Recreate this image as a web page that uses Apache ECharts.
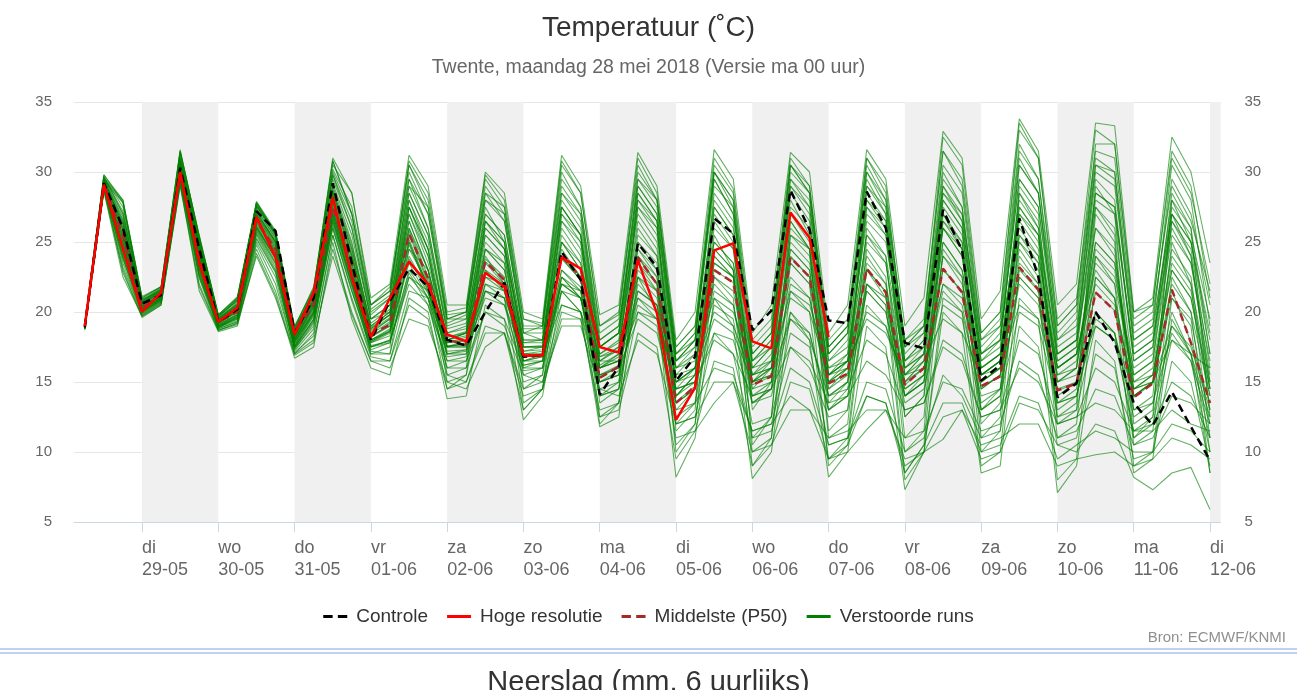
<!DOCTYPE html>
<html>
<head>
  <meta charset="utf-8">
  <title>Temperatuur</title>
  <script src="https://cdn.jsdelivr.net/npm/echarts@6/dist/echarts.min.js"></script>
  <style>
    html, body { margin: 0; width: 100%; height: 100%; background: #fff; }
    #chart { width: 1297px; height: 690px; }
  </style>
</head>
<body>
  <div id="chart"></div>
  <script>
    // hours since ma 28-05 00 uur, 6-hourly steps, first value at 06 uur
    var startHour = 6;
    var stepHours = 6;

    var dayNames = ['di', 'wo', 'do', 'vr', 'za', 'zo', 'ma', 'di', 'wo', 'do', 'vr', 'za', 'zo', 'ma', 'di'];
    var dayDates = ['29-05', '30-05', '31-05', '01-06', '02-06', '03-06', '04-06', '05-06', '06-06', '07-06', '08-06', '09-06', '10-06', '11-06', '12-06'];
    var shadedDays = [1, 3, 5, 7, 9, 11, 13, 15];   // day number after 28-05

    var controle = [18.9, 29.2, 26.0,
      20.6, 21.2, 30.3, 24.5, 19.3, 20.2, 27.2, 25.8, 18.5, 21.0, 29.2, 23.5,
      18.0, 20.8, 23.1, 21.8, 18.0, 17.6, 20.0, 22.1, 16.8, 16.9, 24.3, 22.3,
      14.1, 16.1, 24.9, 23.2, 15.1, 16.8, 26.7, 25.6, 18.7, 20.1, 28.7, 25.9,
      19.4, 19.2, 28.6, 26.0, 17.8, 17.4, 27.3, 24.4, 15.1, 16.2, 26.7, 22.5,
      13.9, 14.9, 20.0, 17.8, 13.5, 11.9, 14.3, 11.8, 9.4];

    var hogeResolutie = [19.0, 29.1, 24.5,
      20.0, 21.4, 30.0, 23.5, 19.3, 20.3, 26.8, 23.9, 18.4, 21.4, 28.2, 22.5,
      18.2, 21.0, 23.6, 22.0, 18.4, 17.9, 22.8, 21.8, 16.9, 16.9, 23.9, 23.1,
      17.5, 17.1, 23.7, 19.9, 12.3, 14.6, 24.4, 24.9, 17.9, 17.4, 27.1, 25.3,
      18.2];

    var middelste = [19.0, 29.1, 25.5,
      20.3, 21.2, 29.8, 24.0, 19.3, 20.0, 26.5, 24.5, 18.6, 20.5, 27.5, 23.5,
      18.4, 19.1, 25.6, 22.4, 18.0, 17.7, 23.6, 22.3, 16.9, 16.9, 24.0, 22.5,
      15.3, 16.1, 23.9, 22.0, 13.5, 14.7, 23.0, 22.1, 14.8, 15.4, 23.9, 22.5,
      14.9, 15.6, 23.1, 21.4, 14.8, 16.0, 23.1, 21.4, 14.7, 15.4, 23.2, 21.6,
      14.4, 14.9, 21.4, 20.1, 13.9, 14.9, 21.6, 17.8, 13.5];

    // verstoorde runs (ensemble members)
    var run01 = [19.1, 29.6, 27.5, 20.8, 21.6, 31.0, 25.0, 19.6, 20.6, 27.6, 25.5, 18.8, 21.2, 30.2, 27.5, 20.5, 21.5, 30.5, 28.0, 19.8, 20.0, 29.5, 27.5, 19.5, 19.0, 30.5, 28.5, 19.0, 19.8, 31.0, 28.5, 17.5, 19.0, 31.0, 28.8, 18.0, 19.5, 30.5, 28.5, 17.5, 19.0, 29.5, 27.0, 16.5, 18.0, 30.0, 27.5, 17.0, 18.5, 31.0, 28.5, 18.5, 20.0, 30.5, 29.5, 17.5, 18.5, 28.0, 25.0, 17.0];
    var run02 = [19.0, 29.2, 25.8, 20.4, 21.2, 30.2, 24.0, 19.2, 20.1, 26.8, 24.6, 18.0, 20.5, 28.0, 23.5, 18.5, 19.5, 26.5, 23.0, 17.8, 18.0, 25.0, 23.5, 17.5, 17.5, 26.0, 24.0, 16.0, 16.8, 24.5, 22.5, 14.0, 15.5, 22.0, 20.5, 13.5, 14.5, 20.0, 18.5, 13.0, 14.0, 21.5, 20.0, 14.0, 15.0, 24.0, 22.0, 15.5, 16.5, 26.0, 24.0, 16.0, 17.0, 22.0, 20.5, 14.5, 15.0, 19.0, 17.5, 13.0];
    var run03 = [18.9, 28.9, 24.0, 20.0, 20.8, 29.5, 22.5, 19.0, 19.5, 25.5, 23.0, 17.5, 19.5, 26.0, 21.5, 17.5, 18.0, 22.0, 20.5, 16.5, 16.5, 20.0, 19.5, 16.0, 16.0, 21.5, 20.0, 15.0, 15.5, 20.5, 19.5, 14.5, 15.0, 18.0, 17.0, 14.0, 14.5, 17.5, 16.5, 13.5, 14.0, 16.5, 15.5, 13.0, 13.5, 17.5, 16.5, 12.5, 13.0, 18.0, 17.0, 12.0, 12.5, 16.0, 15.0, 11.5, 12.0, 15.0, 14.0, 11.0];
    var run04 = [18.8, 29.0, 23.5, 19.8, 20.7, 29.8, 23.0, 18.8, 19.3, 26.0, 23.8, 17.2, 18.8, 27.0, 22.5, 17.0, 17.5, 27.5, 24.5, 15.5, 16.0, 26.5, 25.0, 14.5, 15.5, 27.0, 25.5, 13.5, 14.5, 28.5, 26.5, 11.5, 13.0, 27.5, 25.5, 10.5, 12.5, 25.5, 24.5, 11.0, 12.0, 24.5, 22.5, 10.0, 11.5, 26.5, 24.5, 11.0, 12.5, 28.5, 26.0, 12.5, 13.5, 29.0, 27.0, 13.0, 14.0, 26.5, 24.0, 15.0];
    var run05 = [19.0, 29.4, 26.5, 20.6, 21.4, 30.5, 24.5, 19.3, 20.2, 27.2, 25.0, 18.3, 20.8, 28.5, 24.0, 18.8, 19.8, 28.0, 24.5, 18.0, 18.5, 24.0, 22.0, 16.5, 16.5, 22.0, 21.0, 15.5, 16.0, 19.5, 18.5, 13.0, 13.5, 16.0, 15.5, 11.5, 12.0, 17.5, 16.0, 12.5, 13.0, 20.5, 19.0, 14.0, 15.0, 25.0, 23.0, 16.0, 17.0, 27.5, 25.5, 17.0, 18.0, 26.0, 24.0, 15.0, 15.5, 23.0, 21.0, 14.0];
    var run06 = [19.1, 29.5, 27.0, 20.9, 21.7, 31.2, 25.2, 19.7, 20.8, 27.8, 25.7, 18.6, 21.0, 29.5, 26.0, 19.5, 20.5, 29.0, 26.0, 19.0, 19.5, 28.0, 26.5, 18.5, 18.5, 29.0, 27.0, 17.5, 18.5, 27.0, 25.0, 16.0, 17.0, 25.0, 23.5, 16.5, 17.5, 27.5, 26.0, 16.5, 17.5, 28.5, 26.5, 17.5, 18.5, 29.0, 27.0, 18.0, 19.0, 25.0, 23.0, 16.0, 17.0, 23.0, 21.0, 14.0, 15.0, 21.0, 19.5, 12.0];
    var run07 = [18.9, 28.8, 22.8, 19.7, 20.6, 29.2, 22.0, 18.7, 19.1, 24.5, 21.5, 16.9, 17.8, 24.5, 20.0, 16.5, 16.0, 19.5, 19.0, 15.0, 14.5, 17.5, 18.5, 14.0, 14.5, 19.5, 19.5, 13.0, 13.5, 20.0, 19.0, 12.0, 12.5, 18.5, 17.0, 11.0, 11.5, 16.0, 15.0, 10.5, 11.0, 15.0, 14.5, 10.0, 11.0, 15.5, 14.0, 11.0, 11.5, 19.0, 17.5, 10.5, 11.0, 17.0, 16.0, 9.5, 10.0, 16.5, 15.0, 9.0];
    var run08 = [19.2, 29.8, 28.0, 21.1, 21.8, 31.6, 25.4, 19.8, 21.0, 27.9, 25.8, 19.0, 21.6, 31.0, 28.5, 21.0, 22.0, 31.2, 29.0, 20.5, 20.5, 30.0, 28.5, 20.0, 19.5, 31.2, 29.0, 19.8, 20.5, 31.4, 29.0, 18.0, 20.0, 31.6, 29.5, 18.5, 20.5, 31.4, 30.0, 18.5, 20.5, 31.6, 29.5, 19.0, 21.0, 32.9, 31.0, 19.5, 21.5, 33.8, 31.5, 20.5, 22.0, 33.5, 33.3, 20.0, 21.0, 32.5, 30.0, 23.5];
    var run09 = [18.9, 29.1, 25.0, 20.2, 21.0, 29.9, 23.6, 19.1, 19.8, 26.2, 24.0, 17.8, 20.0, 27.2, 22.8, 18.0, 18.8, 25.0, 21.5, 17.0, 17.0, 22.5, 21.5, 16.5, 16.8, 23.0, 21.8, 15.0, 15.8, 23.0, 21.5, 13.5, 14.5, 22.5, 21.5, 14.5, 15.0, 23.5, 22.0, 14.5, 15.5, 22.0, 20.5, 14.5, 15.5, 21.5, 20.0, 14.0, 14.5, 22.0, 20.5, 13.5, 14.0, 20.0, 18.5, 12.5, 13.5, 20.0, 17.0, 12.5];
    var run10 = [19.0, 29.3, 26.0, 20.5, 21.3, 30.3, 24.2, 19.4, 20.3, 26.9, 24.8, 18.1, 20.4, 27.8, 23.2, 18.3, 19.0, 26.0, 22.5, 17.5, 17.8, 24.5, 23.0, 17.0, 17.2, 25.5, 23.5, 16.5, 17.5, 26.5, 24.5, 15.5, 17.0, 28.0, 26.0, 16.0, 17.5, 29.5, 27.5, 17.0, 18.5, 30.5, 28.0, 17.5, 19.0, 31.5, 29.0, 18.0, 19.5, 32.0, 29.5, 19.0, 20.5, 31.0, 30.0, 18.5, 19.5, 29.5, 27.0, 20.5];
    var run11 = [18.8, 28.7, 24.5, 20.1, 20.9, 29.6, 23.2, 19.0, 19.6, 25.8, 23.5, 17.6, 19.8, 26.5, 22.0, 17.8, 18.5, 23.5, 21.0, 17.5, 17.5, 21.0, 20.5, 17.0, 17.0, 20.5, 20.0, 16.5, 16.5, 21.5, 20.5, 15.5, 16.0, 20.0, 19.0, 15.5, 16.0, 21.0, 20.0, 15.5, 16.0, 20.0, 19.0, 15.0, 16.5, 19.5, 18.5, 15.5, 16.0, 20.5, 19.5, 15.0, 15.5, 19.0, 18.0, 14.5, 15.0, 18.0, 17.0, 16.0];
    var run12 = [19.0, 29.0, 25.2, 20.3, 21.1, 30.0, 23.8, 19.2, 20.0, 26.5, 24.3, 18.0, 20.2, 27.5, 23.0, 18.2, 19.0, 25.8, 22.2, 17.0, 17.3, 23.8, 22.5, 15.5, 16.0, 24.5, 22.5, 14.0, 15.0, 25.0, 23.5, 12.0, 13.5, 25.5, 23.0, 11.0, 12.5, 26.5, 24.5, 11.5, 13.0, 26.0, 24.0, 11.0, 12.5, 27.0, 25.0, 12.0, 13.5, 29.0, 27.0, 13.5, 14.5, 27.5, 25.5, 12.0, 13.0, 25.0, 22.0, 11.0];
    var run13 = [18.9, 29.1, 24.8, 20.2, 21.0, 30.0, 23.5, 19.0, 19.8, 26.0, 23.8, 17.5, 19.5, 26.8, 22.0, 17.5, 18.0, 24.0, 21.5, 16.0, 16.5, 22.0, 21.0, 15.0, 15.5, 22.5, 21.0, 14.0, 14.5, 22.0, 20.5, 12.5, 13.5, 20.5, 19.5, 12.0, 12.5, 18.5, 17.5, 10.5, 11.0, 14.0, 13.5, 9.0, 10.0, 12.5, 13.0, 9.5, 10.0, 13.5, 13.0, 10.5, 10.0, 12.0, 11.5, 8.2, 7.3, 8.5, 8.9, 5.9];
    var run14 = [19.1, 29.4, 26.8, 20.7, 21.5, 30.8, 24.8, 19.5, 20.5, 27.4, 25.2, 18.5, 20.8, 29.0, 25.0, 19.0, 20.0, 28.5, 25.5, 18.5, 19.0, 27.0, 25.5, 18.0, 18.0, 28.0, 26.0, 17.5, 18.5, 29.0, 27.0, 17.0, 18.0, 29.5, 27.0, 17.0, 18.5, 28.0, 25.5, 15.5, 16.5, 23.0, 21.0, 14.5, 15.5, 22.0, 20.5, 13.5, 14.5, 22.5, 21.0, 14.0, 15.0, 24.0, 22.5, 16.0, 17.0, 27.0, 25.0, 18.5];
    var run15 = [19.0, 29.2, 25.5, 20.4, 21.2, 30.1, 24.0, 19.3, 20.1, 26.6, 24.4, 18.2, 20.6, 28.2, 23.8, 18.6, 19.5, 27.0, 23.5, 18.2, 18.5, 25.5, 24.0, 17.0, 17.0, 24.0, 22.5, 16.0, 16.5, 25.5, 24.0, 15.0, 16.0, 24.0, 22.5, 15.5, 16.0, 21.5, 20.5, 16.0, 16.5, 19.5, 18.5, 15.5, 16.0, 22.0, 21.0, 15.0, 16.0, 24.5, 22.5, 15.5, 16.5, 25.0, 23.5, 15.0, 16.0, 24.0, 22.0, 15.0];
    var run16 = [19.0, 29.4, 27.8, 20.9, 21.5, 30.9, 24.9, 19.6, 20.9, 27.5, 25.4, 18.7, 21.5, 30.5, 28.5, 20.5, 21.8, 29.5, 27.0, 19.5, 19.5, 28.5, 27.5, 19.0, 19.0, 30.0, 27.5, 18.0, 19.0, 29.5, 28.0, 17.0, 18.5, 30.0, 27.5, 16.5, 18.0, 30.5, 29.0, 17.5, 19.0, 30.0, 28.0, 18.0, 19.5, 31.5, 29.5, 18.5, 20.0, 33.0, 31.0, 19.5, 21.0, 31.5, 31.0, 19.0, 20.0, 29.0, 26.5, 21.5];
    var run17 = [18.8, 28.9, 24.2, 20.0, 20.8, 29.4, 22.8, 18.9, 19.4, 25.2, 22.8, 17.3, 19.2, 26.2, 21.8, 17.2, 17.0, 24.5, 23.0, 15.0, 15.5, 24.5, 23.5, 13.5, 14.5, 25.0, 23.0, 12.5, 13.5, 23.5, 21.5, 10.5, 12.0, 22.5, 21.0, 10.0, 11.0, 21.5, 20.0, 9.5, 11.0, 23.0, 21.5, 8.5, 10.5, 24.5, 22.5, 10.0, 11.5, 25.5, 23.5, 11.0, 12.0, 24.0, 22.0, 10.5, 11.5, 22.5, 20.0, 10.0];
    var run18 = [18.7, 28.7, 23.0, 19.6, 20.5, 29.1, 21.5, 18.6, 19.0, 24.2, 21.2, 16.7, 17.5, 25.0, 19.5, 16.0, 15.5, 21.0, 20.0, 13.8, 14.0, 20.5, 19.5, 12.3, 14.0, 21.5, 20.0, 11.8, 12.5, 22.5, 20.0, 8.2, 11.0, 21.0, 19.0, 8.1, 10.0, 20.0, 18.0, 8.2, 10.0, 19.0, 17.5, 7.3, 10.0, 20.0, 18.5, 8.5, 9.0, 21.0, 19.5, 7.1, 9.0, 18.0, 16.5, 8.5, 9.5, 19.5, 17.0, 8.5];
    var run19 = [19.1, 29.6, 27.2, 20.8, 21.6, 31.0, 25.0, 19.5, 20.7, 27.6, 25.5, 18.6, 21.3, 29.8, 26.5, 19.8, 21.0, 30.0, 27.0, 19.2, 19.8, 29.0, 27.0, 18.8, 18.8, 29.5, 27.5, 18.5, 19.5, 30.5, 28.0, 17.0, 18.5, 30.5, 28.5, 17.5, 19.0, 31.0, 29.0, 18.0, 19.5, 31.0, 28.5, 18.0, 19.0, 27.0, 24.5, 15.0, 16.0, 24.0, 22.0, 13.0, 14.0, 20.0, 18.5, 11.0, 12.0, 18.0, 16.5, 10.0];
    var run20 = [19.0, 29.0, 25.3, 20.3, 21.1, 29.9, 23.8, 19.2, 20.0, 26.4, 24.1, 17.9, 20.1, 27.4, 22.6, 18.0, 18.7, 25.2, 21.8, 17.5, 17.8, 23.5, 22.0, 16.8, 17.0, 23.8, 22.3, 15.5, 16.2, 24.0, 22.0, 14.0, 15.0, 23.5, 22.5, 15.0, 15.5, 24.5, 23.0, 15.0, 16.0, 24.0, 22.0, 15.0, 16.0, 23.0, 21.5, 14.5, 15.5, 23.5, 22.0, 14.5, 15.0, 22.5, 21.0, 14.0, 15.0, 22.0, 20.0, 14.0];
    var run21 = [18.9, 29.0, 24.6, 20.1, 21.0, 29.7, 23.3, 19.0, 19.7, 25.9, 23.6, 17.7, 19.9, 26.7, 22.3, 17.9, 18.6, 23.8, 21.3, 17.8, 18.0, 21.5, 21.0, 17.5, 17.5, 22.0, 21.5, 16.8, 17.2, 22.5, 21.5, 16.0, 16.5, 21.0, 20.0, 16.0, 16.5, 22.5, 21.0, 15.0, 16.0, 25.5, 24.0, 16.0, 17.0, 27.5, 25.5, 17.0, 18.0, 29.5, 27.5, 18.0, 19.0, 28.5, 27.5, 17.0, 18.0, 27.5, 25.5, 19.5];
    var run22 = [19.0, 29.3, 26.2, 20.6, 21.4, 30.6, 24.4, 19.4, 20.4, 27.0, 24.9, 18.4, 20.9, 28.8, 24.5, 19.2, 20.2, 29.5, 26.0, 18.5, 18.8, 27.5, 25.0, 17.5, 17.6, 26.5, 24.5, 17.0, 17.8, 27.5, 25.5, 16.5, 17.5, 26.5, 24.5, 15.0, 16.0, 24.0, 22.5, 14.0, 15.0, 25.0, 23.5, 14.0, 15.5, 26.0, 24.0, 14.5, 15.5, 26.5, 24.5, 15.0, 16.0, 26.0, 24.5, 14.0, 15.0, 24.5, 22.5, 13.0];
    var run23 = [18.8, 28.8, 23.8, 19.9, 20.7, 29.5, 22.7, 18.8, 19.3, 25.0, 22.5, 17.0, 18.5, 25.5, 21.0, 17.0, 17.0, 22.5, 21.0, 16.0, 16.0, 20.0, 19.0, 15.5, 15.0, 19.0, 19.0, 14.5, 14.0, 18.0, 17.0, 12.0, 12.5, 15.0, 15.0, 11.5, 12.0, 14.0, 13.0, 11.0, 11.5, 13.0, 13.0, 11.0, 11.5, 15.0, 14.5, 11.5, 12.0, 16.5, 15.5, 11.0, 11.5, 14.5, 14.0, 10.5, 11.0, 14.0, 13.5, 12.0];
    var run24 = [19.1, 29.5, 26.0, 20.6, 21.5, 30.7, 24.6, 19.5, 20.5, 27.2, 25.0, 18.4, 20.7, 28.6, 24.2, 18.8, 19.8, 27.5, 24.5, 18.0, 18.3, 26.0, 24.5, 17.2, 17.5, 27.5, 25.5, 16.5, 17.3, 28.0, 26.0, 14.5, 16.0, 27.0, 25.0, 15.0, 16.5, 28.5, 26.5, 15.5, 17.0, 27.5, 25.5, 15.5, 17.0, 28.5, 26.5, 16.5, 17.5, 30.5, 28.5, 17.5, 18.5, 29.5, 28.0, 16.5, 17.5, 28.5, 26.0, 17.0];
    var run25 = [18.9, 29.1, 25.0, 20.2, 21.0, 30.0, 23.6, 19.1, 19.9, 26.3, 24.2, 17.9, 20.0, 27.3, 22.8, 18.0, 18.6, 25.0, 21.8, 17.2, 17.3, 23.0, 21.5, 16.0, 16.5, 22.5, 21.0, 14.5, 15.0, 21.0, 19.5, 11.0, 11.5, 13.5, 15.0, 10.0, 10.5, 13.0, 13.0, 9.5, 10.0, 11.6, 13.0, 9.5, 10.0, 10.9, 13.0, 10.5, 11.0, 12.0, 12.0, 9.0, 9.5, 9.8, 10.0, 9.0, 9.5, 11.0, 10.5, 9.5];
    var run26 = [19.0, 29.2, 25.9, 20.5, 21.3, 30.4, 24.3, 19.3, 20.3, 26.9, 24.7, 18.2, 20.6, 28.3, 24.0, 18.7, 19.6, 27.5, 24.0, 18.2, 18.6, 26.5, 24.5, 17.8, 17.8, 27.0, 25.0, 16.8, 17.5, 26.0, 24.0, 15.0, 16.0, 24.5, 23.0, 15.5, 16.5, 26.0, 24.5, 16.0, 17.0, 26.5, 25.0, 16.5, 17.5, 26.0, 24.0, 15.5, 16.5, 25.5, 24.0, 16.0, 17.0, 23.5, 22.0, 15.5, 16.5, 25.5, 23.5, 16.5];
    var run27 = [18.9, 28.9, 24.5, 20.0, 20.9, 29.6, 23.0, 18.9, 19.6, 25.6, 23.2, 17.4, 19.3, 26.4, 22.0, 17.5, 17.8, 23.0, 21.0, 16.5, 16.8, 21.5, 20.5, 15.8, 16.0, 23.0, 21.5, 15.0, 15.5, 24.5, 23.0, 14.0, 15.5, 26.0, 24.5, 14.5, 16.0, 27.0, 25.0, 15.5, 16.5, 28.0, 26.0, 16.0, 17.0, 29.5, 27.5, 17.0, 18.0, 30.5, 28.5, 17.0, 18.0, 32.0, 32.0, 20.0, 20.5, 31.0, 28.5, 22.0];
    var run28 = [19.0, 29.1, 25.4, 20.3, 21.2, 30.0, 23.9, 19.2, 20.1, 26.5, 24.3, 18.0, 20.3, 27.6, 23.0, 18.2, 19.2, 25.6, 22.0, 17.6, 17.6, 23.6, 22.3, 16.8, 16.9, 23.9, 22.3, 15.3, 16.1, 23.9, 22.0, 13.6, 14.7, 23.0, 22.1, 14.8, 15.4, 23.9, 22.5, 14.9, 15.6, 23.1, 21.4, 14.8, 16.0, 23.1, 21.4, 14.7, 15.4, 23.2, 21.6, 14.4, 14.9, 21.4, 20.1, 13.9, 14.9, 21.6, 17.8, 13.5];
    var run29 = [19.1, 29.7, 27.0, 20.8, 21.7, 31.3, 25.2, 19.7, 20.8, 27.7, 25.6, 18.7, 21.4, 29.8, 26.0, 19.5, 20.0, 26.0, 23.0, 17.5, 18.0, 25.5, 24.0, 16.5, 17.0, 26.5, 25.0, 16.0, 17.0, 27.5, 26.0, 14.0, 15.5, 28.5, 26.5, 13.0, 15.0, 29.0, 27.0, 13.5, 15.0, 29.0, 27.0, 12.5, 14.0, 28.0, 26.0, 13.0, 14.5, 27.5, 25.5, 12.0, 13.0, 27.0, 25.0, 11.0, 12.5, 28.0, 26.0, 12.5];
    var run30 = [18.8, 28.8, 23.8, 19.9, 20.8, 29.4, 22.6, 18.9, 19.5, 25.3, 22.9, 17.4, 19.0, 26.0, 21.5, 17.3, 17.8, 22.5, 21.5, 17.5, 17.5, 22.5, 22.0, 16.5, 16.8, 21.5, 21.0, 16.0, 16.5, 20.0, 19.5, 15.0, 15.5, 19.5, 18.5, 15.0, 15.5, 19.5, 18.0, 14.0, 14.5, 18.0, 17.0, 13.0, 13.5, 18.0, 17.0, 12.5, 13.0, 16.0, 15.0, 12.0, 12.5, 13.5, 13.0, 11.5, 11.5, 13.0, 12.0, 11.5];
    var run31 = [19.0, 29.5, 27.9, 20.7, 21.6, 31.4, 25.5, 19.8, 21.1, 27.6, 25.6, 18.9, 21.8, 30.0, 27.0, 20.0, 21.0, 29.0, 27.5, 19.5, 20.0, 28.0, 27.0, 18.5, 19.0, 28.5, 27.0, 18.0, 19.0, 28.0, 26.5, 16.5, 18.0, 29.0, 27.5, 16.0, 17.5, 29.5, 28.0, 17.0, 18.5, 29.0, 27.5, 17.0, 18.5, 30.5, 28.5, 17.5, 19.0, 31.5, 29.5, 18.0, 19.5, 30.0, 29.0, 18.0, 19.0, 30.5, 28.0, 19.0];
    var run32 = [18.8, 28.6, 22.5, 19.7, 20.5, 29.0, 21.8, 18.7, 19.2, 24.0, 21.0, 17.0, 18.0, 24.0, 19.8, 16.5, 16.5, 20.5, 19.5, 14.5, 15.0, 19.0, 18.5, 13.0, 14.5, 20.0, 19.5, 12.5, 13.0, 18.5, 17.5, 9.5, 11.5, 16.5, 16.0, 9.0, 10.5, 15.0, 14.5, 9.5, 10.5, 14.0, 13.5, 8.5, 10.5, 13.5, 13.5, 10.0, 10.5, 14.0, 13.5, 9.5, 10.5, 11.5, 11.0, 10.0, 10.0, 12.0, 11.5, 10.0];
    var run33 = [19.0, 29.3, 26.4, 20.6, 21.4, 30.4, 24.6, 19.4, 20.5, 27.1, 25.1, 18.3, 20.9, 28.7, 24.8, 19.0, 20.0, 28.0, 25.0, 18.0, 18.5, 26.5, 25.0, 17.5, 17.5, 27.5, 25.5, 17.0, 18.0, 28.5, 26.5, 16.0, 17.5, 27.5, 25.5, 15.5, 17.0, 26.5, 24.5, 15.0, 16.5, 27.0, 25.5, 15.5, 17.0, 28.0, 26.0, 16.0, 17.0, 28.0, 26.0, 16.5, 17.5, 27.5, 26.0, 15.5, 16.5, 26.5, 24.5, 16.0];
    var run34 = [19.1, 29.6, 28.0, 21.0, 21.8, 31.5, 25.3, 19.8, 21.0, 27.8, 25.7, 18.9, 21.7, 30.8, 27.0, 20.5, 21.5, 30.5, 27.5, 19.5, 20.0, 28.5, 26.5, 18.5, 18.0, 25.0, 23.0, 16.0, 16.5, 21.0, 20.0, 14.5, 15.0, 18.5, 18.0, 13.5, 14.0, 19.5, 18.5, 13.0, 14.0, 22.0, 21.0, 14.0, 15.0, 26.0, 24.5, 15.5, 16.5, 28.5, 26.5, 16.5, 17.5, 30.5, 30.0, 18.0, 19.0, 27.0, 24.0, 14.5];
    var run35 = [18.9, 29.0, 24.0, 20.1, 20.9, 29.8, 23.4, 19.0, 19.7, 26.1, 23.9, 17.6, 19.7, 27.0, 22.4, 17.8, 18.3, 24.5, 22.0, 17.0, 17.2, 22.0, 21.5, 16.2, 16.5, 22.0, 21.0, 15.5, 16.0, 22.5, 21.0, 14.5, 15.0, 21.5, 20.5, 14.0, 14.5, 22.0, 21.0, 14.0, 15.0, 21.5, 20.0, 13.5, 14.5, 20.5, 19.5, 13.0, 14.0, 20.0, 19.0, 13.5, 14.0, 19.5, 18.5, 13.0, 13.5, 18.5, 16.5, 12.0];
    var run36 = [19.0, 29.3, 26.3, 20.6, 21.4, 30.6, 24.5, 19.4, 20.4, 27.0, 25.0, 18.3, 20.8, 28.5, 24.5, 18.9, 19.8, 27.0, 24.0, 18.0, 18.5, 26.0, 24.5, 17.8, 18.0, 27.5, 25.5, 17.5, 18.5, 29.0, 27.0, 16.5, 18.0, 30.0, 28.0, 17.0, 18.5, 30.0, 28.5, 17.5, 19.0, 30.0, 27.5, 16.5, 18.0, 29.0, 26.5, 16.0, 17.0, 27.0, 25.0, 15.0, 16.0, 25.0, 23.5, 14.5, 15.5, 23.5, 21.5, 14.5];
    var run37 = [18.9, 29.0, 24.9, 20.2, 21.0, 29.8, 23.5, 19.1, 19.8, 26.1, 23.9, 17.8, 19.9, 27.0, 22.7, 17.9, 18.6, 24.8, 21.7, 16.8, 17.0, 23.0, 22.0, 16.2, 16.5, 24.0, 22.5, 15.0, 15.5, 23.5, 22.0, 13.0, 14.5, 24.0, 22.5, 13.5, 14.5, 24.5, 23.0, 13.0, 14.5, 23.5, 22.0, 12.5, 14.0, 24.0, 22.5, 13.0, 14.0, 22.5, 21.0, 12.5, 13.0, 19.0, 18.0, 11.5, 12.5, 19.0, 17.0, 11.0];
    var run38 = [19.2, 29.8, 27.8, 21.0, 21.8, 31.5, 25.4, 19.7, 20.9, 27.8, 25.6, 18.8, 21.5, 30.8, 27.0, 20.2, 21.2, 30.8, 28.5, 20.0, 20.3, 29.8, 28.0, 19.5, 19.2, 30.8, 28.5, 19.0, 20.0, 30.0, 28.0, 17.5, 19.0, 29.5, 27.0, 17.0, 18.5, 29.0, 27.5, 16.5, 18.0, 28.0, 26.5, 16.0, 17.5, 28.5, 27.0, 16.5, 18.0, 29.5, 27.5, 17.0, 18.0, 28.0, 27.0, 17.0, 18.0, 26.0, 23.5, 15.5];
    var run39 = [18.9, 28.9, 24.3, 20.0, 20.9, 29.6, 23.1, 18.9, 19.6, 25.7, 23.4, 17.5, 19.4, 26.6, 22.2, 17.6, 17.9, 22.8, 20.5, 15.5, 15.0, 18.5, 18.5, 14.5, 15.0, 20.5, 20.0, 14.0, 14.5, 21.5, 20.5, 13.5, 14.5, 23.5, 22.5, 14.0, 15.0, 25.5, 24.0, 14.5, 16.0, 27.5, 26.0, 15.5, 16.5, 26.5, 25.0, 15.5, 16.5, 27.0, 25.5, 16.0, 17.0, 28.5, 27.5, 16.5, 17.5, 27.0, 25.0, 18.0];
    var run40 = [19.0, 29.2, 25.6, 20.4, 21.2, 30.2, 24.1, 19.2, 20.2, 26.7, 24.5, 18.1, 20.4, 27.9, 23.4, 18.4, 19.3, 26.5, 23.0, 17.8, 18.2, 24.5, 23.0, 17.2, 17.3, 25.0, 23.5, 16.2, 17.0, 25.0, 23.0, 15.0, 16.0, 25.0, 23.5, 15.0, 16.0, 25.0, 23.5, 15.5, 16.5, 25.5, 23.5, 15.0, 16.5, 25.0, 23.0, 15.0, 16.0, 25.0, 23.5, 15.5, 16.0, 24.5, 23.0, 14.5, 15.5, 23.0, 21.0, 14.5];
    var run41 = [19.1, 29.5, 26.6, 20.7, 21.5, 30.8, 24.7, 19.5, 20.6, 27.3, 25.3, 18.5, 21.0, 29.2, 25.5, 19.5, 20.5, 28.5, 25.5, 18.8, 19.2, 27.0, 25.5, 18.0, 18.0, 28.5, 26.5, 17.5, 18.5, 29.5, 27.5, 16.5, 18.0, 30.0, 28.0, 16.5, 18.0, 30.5, 28.5, 17.0, 18.5, 31.0, 29.0, 17.5, 19.0, 32.5, 30.5, 18.5, 20.0, 33.5, 31.0, 19.0, 20.5, 33.0, 32.0, 19.5, 20.5, 31.5, 29.0, 21.0];
    var run42 = [18.8, 28.8, 23.2, 19.8, 20.6, 29.3, 22.4, 18.7, 19.2, 24.8, 22.0, 17.1, 18.3, 25.5, 20.8, 16.8, 16.5, 21.5, 21.0, 14.5, 15.5, 21.5, 21.0, 13.0, 14.5, 22.5, 21.5, 12.0, 13.5, 24.0, 22.5, 10.0, 12.0, 24.5, 23.0, 9.0, 11.0, 23.5, 22.0, 9.0, 10.5, 22.0, 20.5, 8.0, 10.0, 21.0, 20.0, 9.0, 10.0, 23.0, 21.5, 8.0, 9.5, 22.5, 21.0, 9.0, 10.0, 21.0, 19.0, 8.5];

    var runs = [run01, run02, run03, run04, run05, run06, run07, run08, run09, run10,
      run11, run12, run13, run14, run15, run16, run17, run18, run19, run20,
      run21, run22, run23, run24, run25, run26, run27, run28, run29, run30,
      run31, run32, run33, run34, run35, run36, run37, run38, run39, run40,
      run41, run42];

    var fontFamily = '"Liberation Sans", Arial, sans-serif';
    var axisEnd = 363.3;

    // legend icons: two dashes for the dashed lines, one bar for the solid ones
    var dashIcon = 'path://M0,0H9V3H0Z M14,0H23V3H14Z';
    var barIcon = 'path://M0,0H24V3H0Z';

    function toPoints(values) {
      return values.map(function (v, i) { return [startHour + i * stepHours, v]; });
    }

    var series = [];

    // day shading
    series.push({
      type: 'line',
      name: 'shade',
      data: [],
      silent: true,
      z: 0,
      markArea: {
        silent: true,
        itemStyle: { color: '#f0f0f0' },
        data: shadedDays.map(function (d) {
          return [{ xAxis: d * 24 }, { xAxis: Math.min(d * 24 + 24, axisEnd) }];
        })
      }
    });

    runs.forEach(function (r) {
      series.push({
        name: 'Verstoorde runs',
        type: 'line',
        data: toPoints(r),
        symbol: 'none',
        silent: true,
        z: 2,
        color: '#008000',
        lineStyle: { color: '#008000', width: 1.1, opacity: 0.62 }
      });
    });

    series.push({
      name: 'Middelste (P50)',
      type: 'line',
      data: toPoints(middelste),
      symbol: 'none',
      z: 3,
      color: '#a52a2a',
      lineStyle: { color: '#a52a2a', width: 2.5, type: [8, 5] }
    });
    series.push({
      name: 'Controle',
      type: 'line',
      data: toPoints(controle),
      symbol: 'none',
      z: 4,
      color: '#000000',
      lineStyle: { color: '#000000', width: 2.5, type: [8, 5] }
    });
    series.push({
      name: 'Hoge resolutie',
      type: 'line',
      data: toPoints(hogeResolutie),
      symbol: 'none',
      z: 5,
      color: '#ff0000',
      lineStyle: { color: '#ff0000', width: 2.5 }
    });

    var tickHours = dayDates.map(function (d, i) { return (i + 1) * 24; });

    var chart = echarts.init(document.getElementById('chart'));
    chart.setOption({
      animation: false,
      backgroundColor: '#ffffff',
      textStyle: { fontFamily: fontFamily },
      title: [{
        text: 'Temperatuur (˚C)',
        left: 'center',
        top: 9,
        textStyle: { fontFamily: fontFamily, fontSize: 28, fontWeight: 'normal', color: '#333333' },
        subtext: 'Twente, maandag 28 mei 2018 (Versie ma 00 uur)',
        subtextStyle: { fontFamily: fontFamily, fontSize: 19.5, color: '#666666' },
        itemGap: 16
      }, {
        text: 'Neerslag (mm, 6 uurlijks)',
        left: 'center',
        top: 663,
        textStyle: { fontFamily: fontFamily, fontSize: 29, fontWeight: 'normal', color: '#333333' }
      }],
      legend: {
        top: 602,
        left: 'center',
        itemWidth: 24,
        itemHeight: 12,
        itemGap: 19,
        data: [
          { name: 'Controle', icon: dashIcon },
          { name: 'Hoge resolutie', icon: barIcon },
          { name: 'Middelste (P50)', icon: dashIcon },
          { name: 'Verstoorde runs', icon: barIcon }
        ],
        textStyle: { fontFamily: fontFamily, fontSize: 19, color: '#333333', padding: [0, 0, 0, 4] }
      },
      graphic: [{
        type: 'text',
        right: 11,
        top: 630,
        style: { text: 'Bron: ECMWF/KNMI', fill: '#909090', font: '15px ' + fontFamily }
      }, {
        type: 'line',
        shape: { x1: 0, y1: 649, x2: 1297, y2: 649 },
        style: { stroke: '#a9c4ee', lineWidth: 1.5 }
      }, {
        type: 'line',
        shape: { x1: 0, y1: 653, x2: 1297, y2: 653 },
        style: { stroke: '#a9c4ee', lineWidth: 1.5 }
      }],
      grid: { left: 74, right: 76.5, top: 102, bottom: 168 },
      xAxis: {
        type: 'value',
        min: 2.6,
        max: axisEnd,
        splitLine: { show: false },
        axisLine: { show: true, lineStyle: { color: '#ccd6eb', width: 1 } },
        axisTick: { show: true, length: 10, lineStyle: { color: '#ccd6eb' }, customValues: tickHours },
        axisLabel: {
          customValues: tickHours,
          align: 'left',
          margin: 15,
          lineHeight: 22,
          color: '#666666',
          fontSize: 18,
          fontFamily: fontFamily,
          formatter: function (v) {
            var i = Math.round(v / 24) - 1;
            return dayNames[i] + '\n' + dayDates[i];
          }
        }
      },
      yAxis: [{
        type: 'value',
        min: 5,
        max: 35,
        interval: 5,
        axisLine: { show: false },
        axisTick: { show: false },
        splitLine: { lineStyle: { color: '#e6e6e6' } },
        axisLabel: { color: '#666666', fontSize: 15, fontFamily: fontFamily, margin: 22 }
      }, {
        type: 'value',
        min: 5,
        max: 35,
        interval: 5,
        position: 'right',
        axisLine: { show: false },
        axisTick: { show: false },
        splitLine: { show: false },
        axisLabel: { color: '#666666', fontSize: 15, fontFamily: fontFamily, margin: 24 }
      }],
      series: series
    });
  </script>
</body>
</html>
